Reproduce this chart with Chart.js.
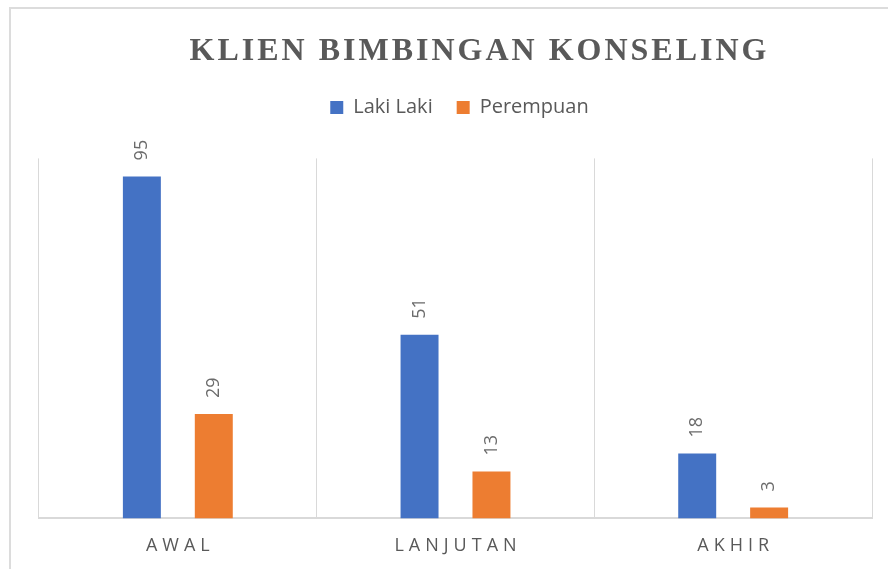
<!DOCTYPE html>
<html>
<head>
<meta charset="utf-8">
<script src="https://cdn.jsdelivr.net/npm/chart.js@4.4.1/dist/chart.umd.min.js"></script>
<style>
  html, body { margin: 0; padding: 0; background: #ffffff; }
  #wrap { position: relative; width: 888px; height: 569px; overflow: hidden; }
  #frame { position: absolute; left: 9px; top: 7px; width: 900px; height: 600px;
           border-left: 2px solid #dcdcdc; border-top: 2px solid #dcdcdc; pointer-events: none; }
  canvas { position: absolute; left: 0; top: 0; }
</style>
</head>
<body>
<div id="wrap">
  <canvas id="c" width="888" height="569"></canvas>
  <div id="frame"></div>
</div>
<script>
const chartTitle = 'KLIEN BIMBINGAN KONSELING';
const categories = ['AWAL', 'LANJUTAN', 'AKHIR'];
const seriesNames = ['Laki Laki', 'Perempuan'];
const lakiLaki = [95, 51, 18];
const perempuan = [29, 13, 3];

const valueLabels = {
  id: 'valueLabels',
  afterDatasetsDraw(chart) {
    const ctx = chart.ctx;
    chart.data.datasets.forEach((ds, i) => {
      const meta = chart.getDatasetMeta(i);
      meta.data.forEach((el, j) => {
        ctx.save();
        ctx.translate(el.x, el.y - 16);
        ctx.rotate(-Math.PI / 2);
        ctx.font = '18px "Open Sans"';
        ctx.fillStyle = '#6b6b6b';
        ctx.textAlign = 'left';
        ctx.textBaseline = 'middle';
        ctx.fillText(String(ds.data[j]), 0, 0);
        ctx.restore();
      });
    });
  }
};

const styling = {
  id: 'styling',
  beforeInit(chart) {
    const lg = chart.legend;
    const origFit = lg.fit;
    lg.fit = function () { origFit.call(this); this.height += 31; };
    const origLgDraw = lg.draw;
    lg.draw = function () {
      const ctx = this.ctx;
      ctx.save();
      ctx.translate(4, 0);
      origLgDraw.call(this);
      ctx.restore();
    };
    const tb = chart.titleBlock;
    const origDraw = tb.draw;
    tb.draw = function () {
      const ctx = this.ctx;
      ctx.save();
      ctx.letterSpacing = '3px';
      ctx.translate(24, 0);
      origDraw.call(this);
      ctx.restore();
    };
  },
  afterUpdate(chart) {
    const sx = chart.scales.x;
    if (!sx._wrapped) {
      const orig = sx.drawLabels;
      sx.drawLabels = function (area) {
        const ctx = this.ctx;
        ctx.save();
        ctx.letterSpacing = '5px';
        ctx.translate(2.5, 0);
        orig.call(this, area);
        ctx.restore();
      };
      sx._wrapped = true;
    }
  }
};

new Chart(document.getElementById('c'), {
  type: 'bar',
  data: {
    labels: categories,
    datasets: [
      { label: seriesNames[0], data: lakiLaki, backgroundColor: '#4472C4' },
      { label: seriesNames[1], data: perempuan, backgroundColor: '#ED7D31' }
    ]
  },
  options: {
    responsive: false,
    animation: false,
    devicePixelRatio: 1,
    barPercentage: 0.528,
    categoryPercentage: 0.518,
    layout: { padding: { left: 39, right: 16, top: 8, bottom: -5 } },
    plugins: {
      tooltip: { enabled: false },
      title: {
        display: true,
        text: chartTitle,
        color: '#595959',
        font: { family: '"Liberation Serif", "Times New Roman", serif', size: 32, weight: 'bold' },
        padding: { top: 25, bottom: 2 }
      },
      legend: {
        display: true,
        position: 'top',
        labels: {
          boxWidth: 13,
          boxHeight: 13,
          padding: 24,
          color: '#595959',
          font: { family: '"Open Sans"', size: 20 }
        }
      }
    },
    scales: {
      x: {
        grid: { display: true, color: '#d9d9d9', lineWidth: 1, offset: true, drawTicks: false },
        border: { display: true, color: '#d9d9d9', width: 2 },
        ticks: { color: '#595959', font: { family: '"Open Sans"', size: 18 }, padding: 17 }
      },
      y: {
        display: false,
        min: 0,
        max: 100
      }
    }
  },
  plugins: [valueLabels, styling]
});
</script>
</body>
</html>
